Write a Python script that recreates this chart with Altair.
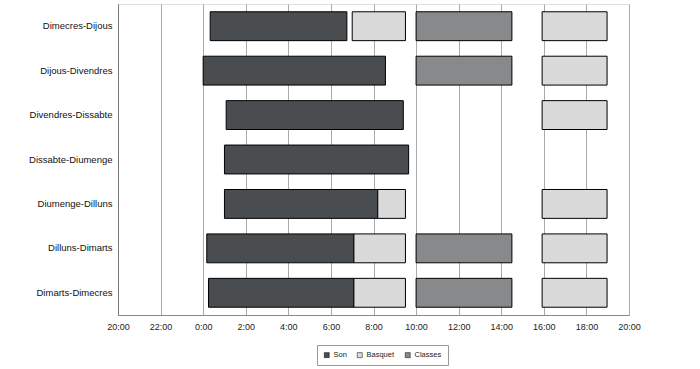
import altair as alt
import pandas as pd

# Data (hours relative to midnight; negative = previous evening)
nights = ["Dimecres-Dijous", "Dijous-Divendres", "Divendres-Dissabte", "Dissabte-Diumenge",
          "Diumenge-Dilluns", "Dilluns-Dimarts", "Dimarts-Dimecres"]
activities = ["Son", "Basquet", "Classes"]
activity_colors = ["#4a4d50", "#d9dad9", "#87898b"]

row_night = ["Dimecres-Dijous", "Dimecres-Dijous", "Dimecres-Dijous", "Dimecres-Dijous",
             "Dijous-Divendres", "Dijous-Divendres", "Dijous-Divendres",
             "Divendres-Dissabte", "Divendres-Dissabte",
             "Dissabte-Diumenge",
             "Diumenge-Dilluns", "Diumenge-Dilluns", "Diumenge-Dilluns",
             "Dilluns-Dimarts", "Dilluns-Dimarts", "Dilluns-Dimarts", "Dilluns-Dimarts",
             "Dimarts-Dimecres", "Dimarts-Dimecres", "Dimarts-Dimecres", "Dimarts-Dimecres"]
row_activity = ["Son", "Basquet", "Classes", "Basquet",
                "Son", "Classes", "Basquet",
                "Son", "Basquet",
                "Son",
                "Son", "Basquet", "Basquet",
                "Son", "Basquet", "Classes", "Basquet",
                "Son", "Basquet", "Classes", "Basquet"]
row_start = [0.33, 7.0, 10.0, 15.92,
             0.0, 10.0, 15.92,
             1.08, 15.92,
             1.0,
             1.0, 8.2, 15.92,
             0.17, 7.08, 10.0, 15.92,
             0.25, 7.08, 10.0, 15.92]
row_end = [6.75, 9.5, 14.5, 18.97,
           8.56, 14.5, 18.97,
           9.4, 18.97,
           9.65,
           8.2, 9.5, 18.97,
           7.08, 9.5, 14.5, 18.97,
           7.08, 9.5, 14.5, 18.97]
x_ticks = [-4, -2, 0, 2, 4, 6, 8, 10, 12, 14, 16, 18, 20]

df = pd.DataFrame({"night": row_night, "activity": row_activity,
                   "start": row_start, "end": row_end})

FONT = "Liberation Sans"

chart = alt.Chart(df).mark_bar(stroke="black", strokeWidth=1).encode(
    x=alt.X("start:Q",
            scale=alt.Scale(domain=[-4, 20], nice=False, zero=False),
            axis=alt.Axis(values=x_ticks,
                          labelExpr="((datum.value + 24) % 24) + ':00'",
                          title=None, grid=True, gridColor="#aaaaaa",
                          ticks=False, domainColor="#888888",
                          labelFontSize=9, labelColor="#222222", labelFont=FONT,
                          labelPadding=7, labelFlush=False, labelOverlap=False)),
    x2="end:Q",
    y=alt.Y("night:N", sort=nights,
            scale=alt.Scale(paddingInner=0.35, paddingOuter=0.175),
            axis=alt.Axis(title=None, ticks=False, domainColor="#777777",
                          labelFontSize=9.5, labelColor="#111111", labelFont=FONT,
                          labelPadding=6)),
    color=alt.Color("activity:N",
                    scale=alt.Scale(domain=activities, range=activity_colors),
                    legend=alt.Legend(title=None, orient="none", direction="horizontal",
                                      legendX=199, legendY=341,
                                      symbolType="square", symbolSize=25,
                                      symbolStrokeColor="black", symbolStrokeWidth=0.5,
                                      labelFontSize=7.5, labelFont=FONT, labelColor="#222222",
                                      columnPadding=9, labelOffset=3,
                                      padding=6, strokeColor="#999999",
                                      fillColor="white")),
    order=alt.Order("start:Q"),
).properties(
    width=511,
    height=311,
    autosize=alt.AutoSizeParams(type="none"),
    padding={"left": 118, "top": 4, "right": 71, "bottom": 54},
).configure_view(stroke=None).configure(background="white")

chart.save("out.html", embed_options={"renderer": "svg", "actions": False})
